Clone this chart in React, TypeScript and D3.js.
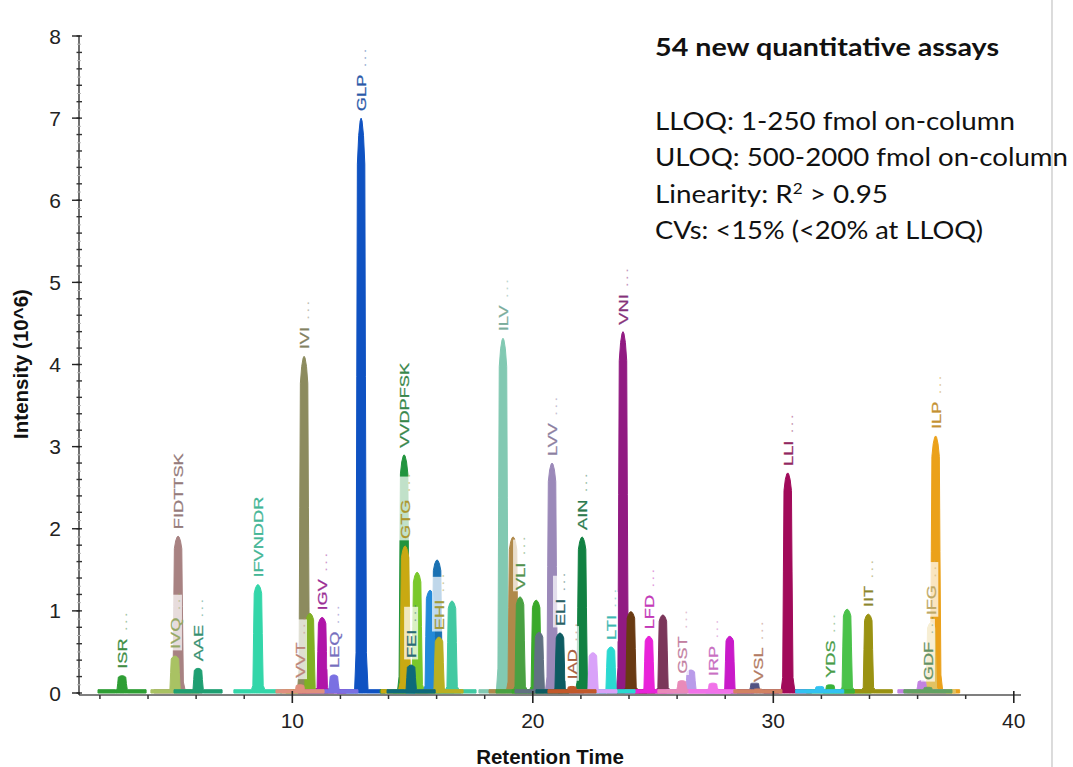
import React from 'react';
import * as d3 from 'd3';

// peaks (retention time in min, intensity in 10^6)
const peakLabels = [
  'ISR...', 'IVQ...', 'FIDTTSK', 'AAE...', 'IFVNDDR', 'VVT...', 'IVI...', '', 'IGV...', 'LEQ...',
  'GLP...', 'VVDPFSK', 'GTG...', 'FEI...', '', '', '', 'EHI...', '', 'ILV...',
  '', 'VLI...', '', '', 'LVV...', 'ELI...', 'IAD...', 'AIN...', '', 'LTI...',
  'VNI...', '', 'LFD...', '', 'GST...', '', 'IRP...', '', '', 'VSL...',
  'LLI...', '', 'YDS...', '', 'IIT...', '', 'GDF...', 'IFG...', 'ILP...',
];
const peakTimes = [
  2.92, 5.12, 5.25, 6.08, 8.57, 10.32, 10.49, 10.73, 11.24, 11.73,
  12.86, 14.65, 14.69, 14.94, 15.19, 15.73, 16.02, 16.1, 16.64, 18.76,
  19.18, 19.47, 20.14, 20.26, 20.8, 21.13, 21.63, 22.05, 22.5, 23.25,
  23.75, 24.08, 24.83, 25.41, 26.2, 26.57, 27.49, 28.19, 29.23, 29.36,
  30.6, 31.93, 32.37, 33.07, 33.95, 36.18, 36.43, 36.57, 36.75,
];
const peakHeights = [
  0.21, 0.45, 1.91, 0.3, 1.32, 0.1, 4.1, 0.97, 0.92, 0.22,
  7.0, 2.9, 1.79, 0.34, 1.47, 1.25, 1.62, 0.68, 1.12, 4.32,
  1.9, 1.17, 1.13, 0.74, 2.8, 0.73, 0.08, 1.9, 0.49, 0.56,
  4.4, 0.99, 0.69, 0.95, 0.15, 0.28, 0.12, 0.69, 0.13, 0.05,
  2.68, 0.08, 0.1, 1.02, 0.96, 0.15, 0.07, 0.86, 3.13,
];
const peakColors = [
  '#2e9e34', '#a9c263', '#a88282', '#1f9f72', '#33d6a9', '#e0907e', '#8c8b5e', '#80b024', '#b014a8', '#7a70e2',
  '#0f52c2', '#22943e', '#c9a912', '#0e6a7a', '#7ac82a', '#2389d9', '#1a71b2', '#b9b022', '#42c9a2', '#82c9b2',
  '#b0894a', '#49a142', '#3aa92a', '#617182', '#9b89b9', '#0d5b61', '#c2592a', '#118142', '#d9a2f9', '#2ad9d1',
  '#911a82', '#693a12', '#e922d9', '#7b365a', '#e98ab9', '#b99be9', '#f172e9', '#c91ac9', '#525282', '#d28262',
  '#a10a5a', '#32c2f2', '#3ab23a', '#4ac24a', '#9a9212', '#c282e2', '#62a262', '#e2c262', '#eba11a',
];

// shared peak profile: offset from apex (min) and fraction of apex height
const profileOffsets = [-1, -0.27, -0.21, -0.18, -0.155, -0.1, -0.04, 0, 0.04, 0.1, 0.155, 0.18, 0.22, 0.29, 1];
const profileShape = [0, 0, 0.07, 0.55, 0.92, 0.97, 0.995, 1, 0.995, 0.97, 0.92, 0.55, 0.07, 0, 0];

const yTicks = [0, 1, 2, 3, 4, 5, 6, 7, 8];
const xTicks = [10, 20, 30, 40];

const summaryTitle = '54 new quantitative assays';
const summaryLines = [
  'LLOQ: 1-250 fmol on-column',
  'ULOQ: 500-2000 fmol on-column',
  'Linearity: R',
  'CVs: <15% (<20% at LLOQ)',
];
const summaryWidths = [360, 413, 233, 328];

const W = 1073;
const H = 767;
const AX_FONT = '"Liberation Sans", Arial, sans-serif';
const LABEL_FS = 13.5;
const STRETCH = 1.35;

let ctx: CanvasRenderingContext2D | null = null;
function textWidth(s: string, font: string) {
  if (!ctx) ctx = document.createElement('canvas').getContext('2d');
  if (!ctx) return s.length * 8;
  ctx.font = font;
  return ctx.measureText(s).width;
}

export default function App() {
  const x = d3.scaleLinear().domain([1.13, 40.3]).range([79, 1021]);
  const y = d3.scaleLinear().domain([0, 8]).range([693, 36]);
  const baseLevel = 0.04;

  const peaks = peakTimes.map((t, i) => ({
    time: t,
    height: peakHeights[i],
    color: peakColors[i],
    label: peakLabels[i],
  }));

  const area = d3
    .area<[number, number]>()
    .x((d) => x(d[0]))
    .y0(y(0))
    .y1((d) => y(d[1]));

  // tall peaks first so the small ones stay visible
  const drawOrder = [...peaks].sort((a, b) => b.height - a.height);

  const labelled = peaks.filter((p) => p.label);
  const labelFont = `${LABEL_FS}px "Liberation Sans", Arial`;

  const minorY = d3.range(0, 8.001, 0.2);
  const faintY = d3.range(0.1, 8, 0.2);
  const minorX = d3.range(2, 41, 2).filter((v) => v % 10 !== 0);

  return (
    <svg width={W} height={H} style={{ display: 'block', position: 'absolute', left: 0, top: 0 }}>
      <rect width={W} height={H} fill="#fff" />
      <line x1={1052} x2={1052} y1={0} y2={H} stroke="#c4c4c4" strokeWidth={1.2} />

      {/* peaks */}
      {drawOrder.map((p, i) => {
        const pts: [number, number][] = profileOffsets.map((o, k) => [
          p.time + o,
          Math.max(baseLevel, p.height * profileShape[k]),
        ]);
        return (
          <path key={i} d={area(pts) || ''} fill={p.color} stroke={p.color} strokeWidth={1} strokeLinejoin="round" />
        );
      })}

      {/* x axis */}
      <line x1={79} x2={1021} y1={y(0) + 2} y2={y(0) + 2} stroke="#555" strokeWidth={1.3} />
      {minorX.map((v) => (
        <line key={v} x1={x(v)} x2={x(v)} y1={y(0) + 2} y2={y(0) + 6} stroke="#333" strokeWidth={1.5} />
      ))}
      {xTicks.map((v) => (
        <g key={v}>
          <line x1={x(v)} x2={x(v)} y1={y(0) - 2} y2={y(0) + 10} stroke="#222" strokeWidth={1.6} />
          <text x={x(v)} y={728} textAnchor="middle" fontFamily={AX_FONT} fontSize={21} fill="#222">
            {v}
          </text>
        </g>
      ))}

      {/* y axis */}
      <line x1={79} x2={79} y1={y(0) + 2} y2={y(8)} stroke="#222" strokeWidth={1.3} />
      {faintY.map((v, i) => (
        <line key={i} x1={77} x2={81} y1={y(v)} y2={y(v)} stroke="#bbb" strokeWidth={1} />
      ))}
      {minorY.map((v, i) => (
        <line key={i} x1={76.5} x2={82} y1={y(v)} y2={y(v)} stroke="#333" strokeWidth={1.4} />
      ))}
      {yTicks.map((v) => (
        <g key={v}>
          <line x1={72} x2={80} y1={y(v)} y2={y(v)} stroke="#222" strokeWidth={1.4} />
          <text x={61} y={y(v) + 7.5} textAnchor="end" fontFamily={AX_FONT} fontSize={21} fill="#222">
            {v}
          </text>
        </g>
      ))}

      <text x={550} y={764} textAnchor="middle" fontFamily={AX_FONT} fontSize={20.5} fontWeight="bold" fill="#111">
        Retention Time
      </text>
      <text
        transform="translate(28,364) rotate(-90)"
        textAnchor="middle"
        fontFamily={AX_FONT}
        fontSize={20.5}
        fontWeight="bold"
        fill="#111"
      >
        Intensity (10^6)
      </text>

      {/* peak label backgrounds */}
      {labelled.map((p, i) => {
        const main = p.label.replace('...', '');
        const dots = p.label.endsWith('...');
        const w = textWidth(main, labelFont) + (dots ? 16 : 0);
        return (
          <rect
            key={i}
            transform={`translate(${x(p.time)},${y(p.height) - 7}) rotate(-90) scale(${STRETCH},1)`}
            x={-1}
            y={-7}
            width={w + 2}
            height={14}
            fill="#fff"
            opacity={0.72}
          />
        );
      })}
      {labelled.map((p, i) => {
        const main = p.label.replace('...', '');
        const dots = p.label.endsWith('...');
        const c = d3.interpolateRgb(p.color, '#6a6a6a')(0.3);
        return (
          <text
            key={i}
            transform={`translate(${x(p.time)},${y(p.height) - 7}) rotate(-90) scale(${STRETCH},1)`}
            x={0}
            y={4.9}
            fontFamily={AX_FONT}
            fontSize={LABEL_FS}
            fill={c}
            stroke={c}
            strokeWidth={0.25}
          >
            {main}
            {dots && (
              <tspan fillOpacity={0.5} strokeOpacity={0} letterSpacing={1.5}>
                {' ...'}
              </tspan>
            )}
          </text>
        );
      })}

      {/* summary text */}
      <text
        x={655}
        y={56}
        fontFamily="Lato, 'Open Sans', sans-serif"
        fontWeight="bold"
        fontSize={24}
        fill="#111"
        textLength={344}
        lengthAdjust="spacingAndGlyphs"
      >
        {summaryTitle}
      </text>
      {summaryLines.map((s, i) => (
        <text
          key={i}
          x={655}
          y={130 + i * 36.3}
          fontFamily="Lato, 'Open Sans', sans-serif"
          fontSize={24.5}
          fill="#111"
          textLength={summaryWidths[i]}
          lengthAdjust="spacingAndGlyphs"
        >
          {s}
          {i === 2 && (
            <>
              <tspan dy={-9} fontSize={15}>
                2
              </tspan>
              <tspan dy={9}> &gt; 0.95</tspan>
            </>
          )}
        </text>
      ))}
    </svg>
  );
}
